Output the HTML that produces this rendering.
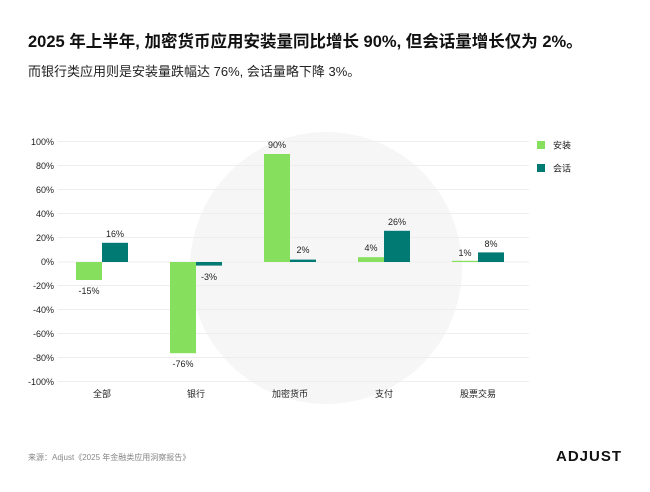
<!DOCTYPE html>
<html><head><meta charset="utf-8"><style>
body{margin:0;width:650px;height:487px;background:#fff;overflow:hidden;font-family:"Liberation Sans","Noto Sans CJK SC",sans-serif;}
</style></head><body>
<svg width="650" height="487" xmlns="http://www.w3.org/2000/svg" font-family="Liberation Sans, Noto Sans CJK SC, sans-serif">
<circle cx="326" cy="268" r="136" fill="#f6f6f6"/>
<text x="28" y="47" font-size="16.5" font-weight="bold" fill="#111">2025 年上半年, 加密货币应用安装量同比增长 90%, 但会话量增长仅为 2%。</text>
<text x="28" y="76" font-size="13" fill="#222">而银行类应用则是安装量跌幅达 76%, 会话量略下降 3%。</text>
<g stroke="#eeeeee" stroke-width="1">
<line x1="58" x2="529" y1="141.5" y2="141.5"/><line x1="58" x2="529" y1="165.5" y2="165.5"/>
<line x1="58" x2="529" y1="189.5" y2="189.5"/><line x1="58" x2="529" y1="213.5" y2="213.5"/>
<line x1="58" x2="529" y1="237.5" y2="237.5"/><line x1="58" x2="529" y1="262" y2="262"/>
<line x1="58" x2="529" y1="285.5" y2="285.5"/><line x1="58" x2="529" y1="309.5" y2="309.5"/>
<line x1="58" x2="529" y1="333.5" y2="333.5"/><line x1="58" x2="529" y1="357.5" y2="357.5"/>
<line x1="58" x2="529" y1="381.5" y2="381.5"/>
</g>
<g font-size="9" fill="#222" text-anchor="end">
<text x="54" y="145">100%</text><text x="54" y="169">80%</text><text x="54" y="193">60%</text>
<text x="54" y="217">40%</text><text x="54" y="241">20%</text><text x="54" y="265">0%</text>
<text x="54" y="289">-20%</text><text x="54" y="313">-40%</text><text x="54" y="337">-60%</text>
<text x="54" y="361">-80%</text><text x="54" y="385">-100%</text>
</g>
<g fill="#86e05e">
<rect x="76" y="262" width="26" height="18"/>
<rect x="170" y="262" width="26" height="91.2"/>
<rect x="264" y="154" width="26" height="108"/>
<rect x="358" y="257.2" width="26" height="4.8"/>
<rect x="452" y="260.8" width="26" height="1.2"/>
</g>
<g fill="#007a73">
<rect x="102" y="242.8" width="26" height="19.2"/>
<rect x="196" y="262" width="26" height="3.6"/>
<rect x="290" y="259.6" width="26" height="2.4"/>
<rect x="384" y="230.8" width="26" height="31.2"/>
<rect x="478" y="252.4" width="26" height="9.6"/>
</g>
<g font-size="9" fill="#222" text-anchor="middle">
<text x="89" y="294">-15%</text><text x="115" y="237">16%</text>
<text x="183" y="367">-76%</text><text x="209" y="280">-3%</text>
<text x="277" y="148">90%</text><text x="303" y="253">2%</text>
<text x="371" y="251">4%</text><text x="397" y="225">26%</text>
<text x="465" y="256">1%</text><text x="491" y="247">8%</text>
</g>
<g font-size="9" fill="#222" text-anchor="middle">
<text x="102" y="397">全部</text><text x="196" y="397">银行</text><text x="290" y="397">加密货币</text>
<text x="384" y="397">支付</text><text x="478" y="397">股票交易</text>
</g>
<rect x="537" y="141" width="8" height="8" fill="#86e05e"/>
<rect x="537" y="164" width="8" height="8" fill="#007a73"/>
<text x="553" y="148.5" font-size="9" fill="#222">安装</text>
<text x="553" y="171.5" font-size="9" fill="#222">会话</text>
<text x="28" y="460" font-size="8" fill="#888">来源：Adjust《2025 年金融类应用洞察报告》</text>
<text x="622" y="461" font-size="15" font-weight="bold" fill="#111" text-anchor="end" letter-spacing="1">ADJUST</text>
</svg>
</body></html>
